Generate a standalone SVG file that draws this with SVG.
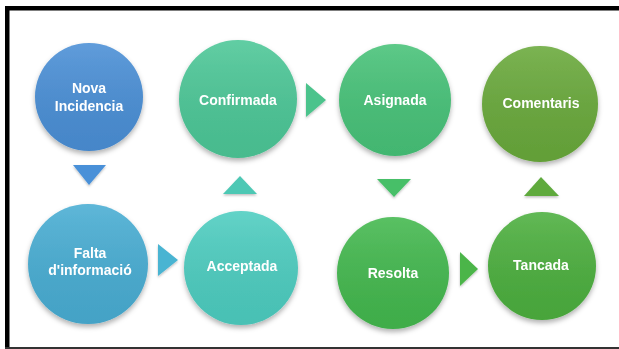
<svg xmlns="http://www.w3.org/2000/svg" width="619" height="349" viewBox="0 0 619 349">
<defs>
<linearGradient id="shade" x1="0" y1="0" x2="0" y2="1">
<stop offset="0" stop-color="#ffffff" stop-opacity="0.12"/>
<stop offset="1" stop-color="#000000" stop-opacity="0.06"/>
</linearGradient>
<filter id="sh" x="-20%" y="-20%" width="140%" height="150%">
<feDropShadow dx="0" dy="3" stdDeviation="2.5" flood-color="#000" flood-opacity="0.3"/>
</filter>
<filter id="tsh" x="-30%" y="-30%" width="160%" height="170%">
<feDropShadow dx="0" dy="1.5" stdDeviation="1.2" flood-color="#000" flood-opacity="0.25"/>
</filter>
</defs>
<style>
.lbl{font-family:"Liberation Sans",Arial,sans-serif;font-weight:bold;font-size:14px;fill:#ffffff;text-anchor:middle}
.ov{fill:url(#shade)}
</style>
<rect x="0" y="0" width="619" height="349" fill="#ffffff"/>
<g id="frame">
<rect x="5" y="6" width="614" height="4.5" fill="#000"/>
<rect x="5" y="6" width="4.5" height="343" fill="#000"/>
<rect x="5" y="347" width="614" height="2" fill="#333"/>
</g>
<g id="connectors" filter="url(#tsh)">
<polygon points="73,165 106,165 89,185" fill="#4a90d8"/>
<polygon points="158,244 158,276 178,260" fill="#4ab4d2"/>
<polygon points="223,194 257,194 240,176" fill="#4ec8b4"/>
<polygon points="306,83 306,117 326,100" fill="#4cc38c"/>
<polygon points="377,179 411,179 394,197" fill="#46bf68"/>
<polygon points="460,252 460,286 478,269" fill="#4cb548"/>
<polygon points="524,196 559,196 541,177" fill="#5eaa3e"/>
</g>
<g id="nova" filter="url(#sh)">
<circle cx="89" cy="97" r="54" fill="#4a8fd6"/>
<circle cx="89" cy="97" r="54" class="ov"/>
<text class="lbl" x="89" y="93">Nova</text>
<text class="lbl" x="89" y="111">Incidencia</text>
</g>
<g id="falta" filter="url(#sh)">
<circle cx="88" cy="264" r="60" fill="#48add3"/>
<circle cx="88" cy="264" r="60" class="ov"/>
<text class="lbl" x="90" y="258">Falta</text>
<text class="lbl" x="90" y="275">d'informació</text>
</g>
<g id="acceptada" filter="url(#sh)">
<circle cx="241" cy="268" r="57" fill="#4dcdc0"/>
<circle cx="241" cy="268" r="57" class="ov"/>
<text class="lbl" x="242" y="271">Acceptada</text>
</g>
<g id="confirmada" filter="url(#sh)">
<circle cx="238" cy="99" r="59" fill="#4cc797"/>
<circle cx="238" cy="99" r="59" class="ov"/>
<text class="lbl" x="238" y="105">Confirmada</text>
</g>
<g id="asignada" filter="url(#sh)">
<circle cx="395" cy="100" r="56" fill="#47c278"/>
<circle cx="395" cy="100" r="56" class="ov"/>
<text class="lbl" x="395" y="105">Asignada</text>
</g>
<g id="resolta" filter="url(#sh)">
<circle cx="393" cy="273" r="56" fill="#43b84e"/>
<circle cx="393" cy="273" r="56" class="ov"/>
<text class="lbl" x="393" y="278">Resolta</text>
</g>
<g id="tancada" filter="url(#sh)">
<circle cx="542" cy="266" r="54" fill="#4caf3e"/>
<circle cx="542" cy="266" r="54" class="ov"/>
<text class="lbl" x="541" y="270">Tancada</text>
</g>
<g id="comentaris" filter="url(#sh)">
<circle cx="540" cy="104" r="58" fill="#69a93b"/>
<circle cx="540" cy="104" r="58" class="ov"/>
<text class="lbl" x="541" y="108">Comentaris</text>
</g>
</svg>
